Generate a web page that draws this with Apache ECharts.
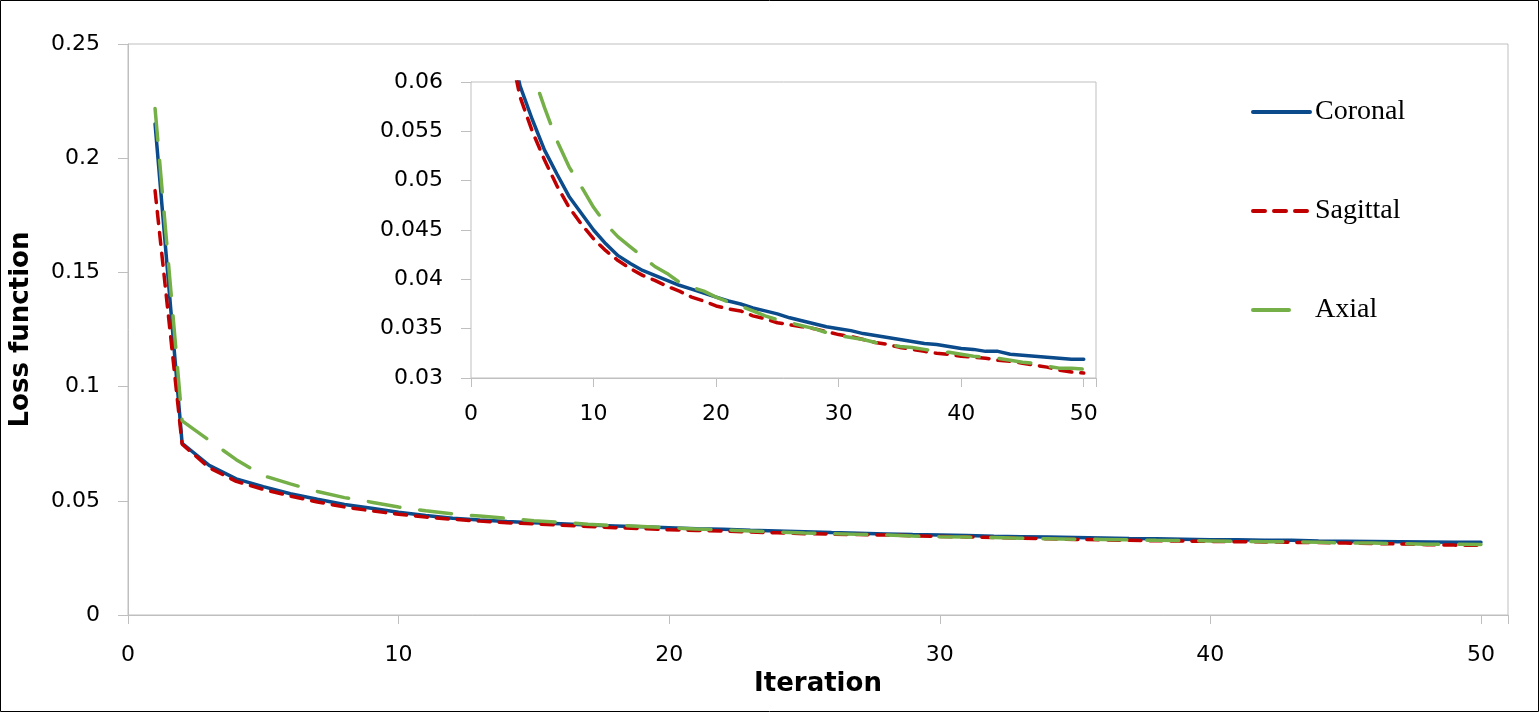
<!DOCTYPE html>
<html>
<head>
<meta charset="utf-8">
<script src="https://cdn.jsdelivr.net/npm/echarts@6/dist/echarts.min.js"></script>
<style>
  html, body { margin: 0; padding: 0; background: #fff; }
  #chart { width: 1539px; height: 712px; }
</style>
</head>
<body>
<div id="chart"></div>
<script>
var iterations = [1, 2, 3, 4, 5, 6, 7, 8, 9, 10, 11, 12, 13, 14, 15, 16, 17, 18, 19, 20,
  21, 22, 23, 24, 25, 26, 27, 28, 29, 30, 31, 32, 33, 34, 35, 36, 37, 38, 39, 40,
  41, 42, 43, 44, 45, 46, 47, 48, 49, 50];

var coronal = [0.2150, 0.0752, 0.0655, 0.0596, 0.0562, 0.0531, 0.0507, 0.0484, 0.0467, 0.0450,
  0.0436, 0.0424, 0.0416, 0.0409, 0.0404, 0.0399, 0.0394, 0.0390, 0.0386, 0.0382,
  0.0378, 0.0375, 0.0371, 0.0368, 0.0365, 0.0361, 0.0358, 0.0355, 0.0352, 0.0350,
  0.0348, 0.0345, 0.0343, 0.0341, 0.0339, 0.0337, 0.0335, 0.0334, 0.0332, 0.0330,
  0.0329, 0.0327, 0.0327, 0.0324, 0.0323, 0.0322, 0.0321, 0.0320, 0.0319, 0.0319];

var sagittal = [0.1858, 0.0748, 0.0645, 0.0585, 0.0550, 0.0521, 0.0495, 0.0473, 0.0456, 0.0441,
  0.0429, 0.0419, 0.0411, 0.0404, 0.0399, 0.0393, 0.0388, 0.0382, 0.0378, 0.0373,
  0.0370, 0.0368, 0.0363, 0.0360, 0.0356, 0.0354, 0.0352, 0.0350, 0.0347, 0.0344,
  0.0342, 0.0339, 0.0336, 0.0334, 0.0331, 0.0329, 0.0327, 0.0325, 0.0324, 0.0322,
  0.0321, 0.0320, 0.0318, 0.0317, 0.0315, 0.0313, 0.0311, 0.0308, 0.0306, 0.0305];

var axial = [0.2218, 0.0850, 0.0765, 0.0680, 0.0610, 0.0574, 0.0541, 0.0514, 0.0494, 0.0473,
  0.0456, 0.0443, 0.0433, 0.0423, 0.0413, 0.0406, 0.0397, 0.0392, 0.0388, 0.0382,
  0.0377, 0.0373, 0.0368, 0.0363, 0.0359, 0.0356, 0.0353, 0.0350, 0.0346, 0.0343,
  0.0341, 0.0339, 0.0336, 0.0334, 0.0332, 0.0331, 0.0329, 0.0327, 0.0326, 0.0324,
  0.0322, 0.0321, 0.0320, 0.0318, 0.0316, 0.0315, 0.0312, 0.0310, 0.0310, 0.0309];

var seriesNames = ['Coronal', 'Sagittal', 'Axial'];

function pairs(values) {
  return iterations.map(function (it, i) { return [it, values[i]]; });
}

var gray = '#BFBFBF';
var labelFont = { fontFamily: 'DejaVu Sans', fontSize: 22, color: '#000' };

var styles = [
  { color: '#0B4A8B', width: 3.5, type: 'solid', cap: 'round' },
  { color: '#C00000', width: 3.5, type: [12, 9], cap: 'round' },
  { color: '#74AF48', width: 3.5, type: [32, 20], cap: 'round' }
];
var dataSets = [coronal, sagittal, axial];

function xAxisFor(gridIndex, name) {
  return {
    type: 'value', gridIndex: gridIndex, min: 0, max: 51, interval: 10,
    name: name, nameLocation: 'middle', nameGap: 54,
    nameTextStyle: { fontFamily: 'DejaVu Sans', fontSize: 26, fontWeight: 'bold', color: '#000' },
    axisLine: { show: true, lineStyle: { color: gray, width: 1 } },
    axisTick: { show: true, length: 9, lineStyle: { color: gray } },
    axisLabel: Object.assign({ margin: gridIndex === 0 ? 29 : 25,
      formatter: function (v) { return v % 10 === 0 ? String(v) : ''; } }, labelFont),
    splitLine: { show: false }
  };
}

function yAxisFor(gridIndex, min, max, interval, name) {
  return {
    type: 'value', gridIndex: gridIndex, min: min, max: max, interval: interval,
    name: name, nameLocation: 'middle', nameGap: 94,
    nameTextStyle: { fontFamily: 'DejaVu Sans', fontSize: 26, fontWeight: 'bold', color: '#000' },
    axisLine: { show: true, lineStyle: { color: gray, width: 1 } },
    axisTick: { show: true, length: 10, lineStyle: { color: gray } },
    axisLabel: Object.assign({ margin: 28 }, labelFont),
    splitLine: { show: false }
  };
}

var series = [];
[0, 1].forEach(function (g) {
  dataSets.forEach(function (d, i) {
    series.push({
      name: seriesNames[i],
      type: 'line',
      xAxisIndex: g,
      yAxisIndex: g,
      data: pairs(d),
      showSymbol: false,
      symbol: 'none',
      smooth: false,
      clip: true,
      z: 3 + g * 5,
      lineStyle: styles[i],
      itemStyle: { color: styles[i].color }
    });
  });
});

var myChart = echarts.init(document.getElementById('chart'));

var option = {
  animation: false,
  backgroundColor: '#fff',
  grid: [
    { left: 128, top: 44, right: 31, bottom: 97, show: true, borderColor: gray, borderWidth: 1, backgroundColor: '#fff' },
    { left: 471, top: 82, right: 443, bottom: 334, show: true, borderColor: gray, borderWidth: 1, backgroundColor: '#fff', z: 6 }
  ],
  xAxis: [xAxisFor(0, 'Iteration'), xAxisFor(1, '')],
  yAxis: [yAxisFor(0, 0, 0.25, 0.05, 'Loss function'), yAxisFor(1, 0.03, 0.06, 0.005, '')],
  legend: {
    data: [
      { name: 'Coronal' },
      { name: 'Sagittal' },
      { name: 'Axial', lineStyle: { type: [36, 40] } }
    ],
    orient: 'vertical',
    left: 1251,
    top: 98,
    padding: 0,
    itemWidth: 57,
    itemHeight: 14,
    itemGap: 71,
    itemStyle: { opacity: 0 },
    lineStyle: { width: 4, cap: 'round' },
    textStyle: { fontFamily: 'Liberation Serif', fontSize: 28, color: '#000' }
  },
  graphic: [{
    type: 'rect',
    shape: { x: 0.5, y: 0.5, width: 1538, height: 711 },
    style: { fill: 'none', stroke: '#000', lineWidth: 1 },
    silent: true,
    z: 100
  }],
  series: series
};

myChart.setOption(option);
</script>
</body>
</html>
